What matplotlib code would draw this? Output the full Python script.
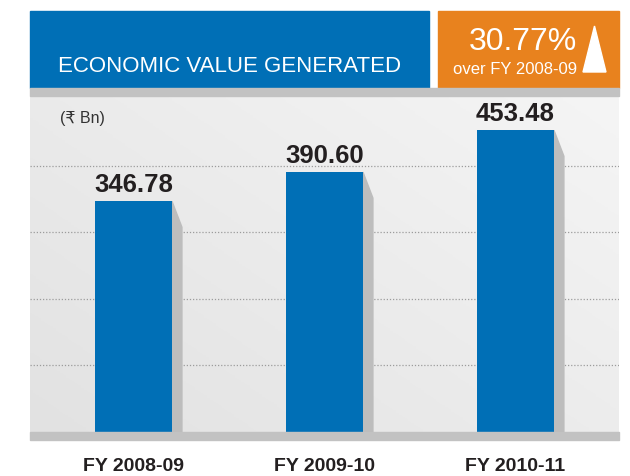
import matplotlib
matplotlib.use('Agg')
import matplotlib.pyplot as plt
import numpy as np
from matplotlib.patches import Rectangle, Polygon

years = ['FY 2008-09', 'FY 2009-10', 'FY 2010-11']
values = [346.78, 390.60, 453.48]
grid_vals = [100, 200, 300, 400]
title = 'ECONOMIC VALUE GENERATED'
growth = '30.77%'
growth_sub = 'over FY 2008-09'
unit = '(\u20b9 Bn)'

W, H = 630, 477
blue = '#006fb6'
orange = '#e8821e'
band = '#c2c2c2'
dark = '#231f20'
plt.rcParams['font.family'] = ['Liberation Sans', 'DejaVu Sans']

fig = plt.figure(figsize=(W / 100, H / 100), dpi=100)
fig.patch.set_facecolor('white')

def fx(px):
    return px / W

def fy(py):
    return 1 - py / H

def box(x0, y0, x1, y1, color):
    fig.patches.append(Rectangle((fx(x0), fy(y1)), fx(x1) - fx(x0), fy(y0) - fy(y1),
                                 transform=fig.transFigure, color=color, zorder=0))

# header boxes and grey strips
box(30, 12, 429, 89, blue)
box(438, 12, 619, 89, orange)
box(30, 89, 619, 97, band)
box(30, 433, 619, 441, band)

fig.text(fx(58), fy(66), title, color='white', fontsize=16, va='center', ha='left')
fig.text(fx(523), fy(42), growth, color='white', fontsize=23, va='center', ha='center')
fig.text(fx(515), fy(69), growth_sub, color='white', fontsize=12, va='center', ha='center')
fig.patches.append(Polygon([(fx(583), fy(73)), (fx(606), fy(73)), (fx(594.5), fy(27))],
                           closed=True, transform=fig.transFigure, color='white'))

ax = fig.add_axes([fx(30), fy(433), fx(619) - fx(30), fy(97) - fy(433)])
x = np.arange(len(values))
ax.set_xlim(-0.542, 2.542)
ax.set_ylim(0, 505)

# background gradient
g = np.linspace(0, 1, 200)
gx, gy = np.meshgrid(g, g)
grad = 0.55 * gx + 0.45 * gy
ax.imshow(grad, extent=[0, 1, 0, 1], transform=ax.transAxes, origin='lower',
          cmap=matplotlib.colors.LinearSegmentedColormap.from_list('bg', ['#e2e2e2', '#f5f5f5']),
          aspect='auto', zorder=0)

for gv in grid_vals:
    ax.axhline(gv, color='#9c9c9c', linestyle=(0, (1, 1.5)), linewidth=0.9, zorder=1)

bw = 0.403
sw = 0.052
drop = 39
for xi, v in zip(x, values):
    r = xi + bw / 2
    ax.add_patch(Polygon([(r, v), (r + sw, v - drop), (r + sw, 0), (r, 0)],
                         closed=True, color='#bdbdbd', zorder=2))
bars = ax.bar(x, values, width=bw, color=blue, zorder=3)
for xi, v in zip(x, values):
    ax.annotate(f'{v:.2f}', (xi, v), xytext=(0, 4), textcoords='offset points',
                ha='center', va='bottom', fontsize=18.5, fontweight='bold', color=dark)

fig.text(fx(60), fy(118), unit, color='#333333', fontsize=11.5, va='center', ha='left')

ax.set_xticks(x)
ax.set_xticklabels(years, fontsize=14, fontweight='bold', color=dark)
ax.tick_params(axis='x', length=0, pad=18)
ax.set_yticks([])
for s in ax.spines.values():
    s.set_visible(False)

fig.savefig('out.png', dpi=100)
